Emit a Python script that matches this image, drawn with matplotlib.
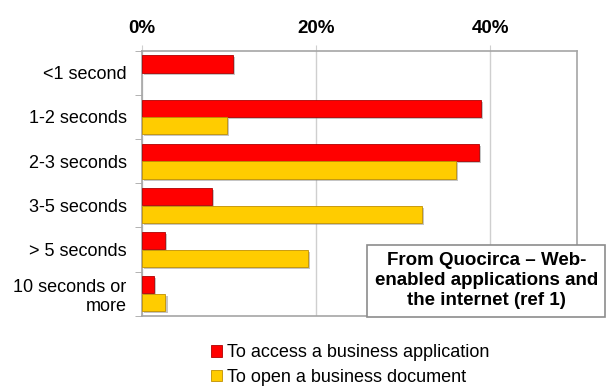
import numpy as np
import matplotlib
matplotlib.use("Agg")
import matplotlib.pyplot as plt
import matplotlib.patheffects as pe
from matplotlib.patches import Patch, Rectangle
from matplotlib.ticker import FixedLocator, PercentFormatter

plt.rcParams["font.family"] = ["Liberation Sans", "DejaVu Sans"]

categories = ["<1 second", "1-2 seconds", "2-3 seconds", "3-5 seconds",
              "> 5 seconds", "10 seconds or\nmore"]
access_app = [10.5, 39.0, 38.7, 8.0, 2.6, 1.4]
open_doc = [0.0, 9.8, 36.1, 32.2, 19.1, 2.7]
series_labels = ["To access a business application", "To open a business document"]
note = "From Quocirca \u2013 Web-\nenabled applications and\nthe internet (ref 1)"

RED, RED_EDGE = "#ff0000", "#b00000"
YEL, YEL_EDGE = "#ffcc00", "#c09000"
FRAME = "#a6a6a6"
GRID = "#cfcfcf"

fig = plt.figure(figsize=(6.07, 3.88), dpi=100)
ax = fig.add_axes([0.2339, 0.1863, 0.9506 - 0.2339, 0.8693 - 0.1863])

y = np.arange(len(categories))
h = 0.39
shadow = [pe.SimplePatchShadow(offset=(1.5, -1.5), shadow_rgbFace="0.5", alpha=0.45),
          pe.Normal()]

b1 = ax.barh(y - 0.2, access_app, height=h, color=RED, edgecolor=RED_EDGE,
             lw=0.6, zorder=3)
b2 = ax.barh(y + 0.2, open_doc, height=h, color=YEL, edgecolor=YEL_EDGE,
             lw=0.6, zorder=3)
for bars in (b1, b2):
    for p in bars:
        if p.get_width() > 0:
            p.set_path_effects(shadow)
        else:
            p.set_visible(False)

ax.set_xlim(0, 50)
ax.set_ylim(len(categories) - 0.5, -0.5)

ax.xaxis.tick_top()
ax.xaxis.set_major_locator(FixedLocator([0, 20, 40]))
ax.xaxis.set_major_formatter(PercentFormatter(decimals=0))
ax.tick_params(axis="x", length=4, color=GRID, pad=6, labelsize=13.5)
for t in ax.get_xticklabels():
    t.set_fontweight("bold")
ax.grid(axis="x", color=GRID, lw=1.0, zorder=0)

ax.set_yticks(y)
ax.set_yticklabels(categories, fontsize=13)
ax.yaxis.set_minor_locator(FixedLocator(np.arange(-0.5, len(categories), 1.0)))
ax.tick_params(axis="y", which="major", length=0, pad=11)
ax.tick_params(axis="y", which="minor", length=5, color=FRAME)

for s in ax.spines.values():
    s.set_color(FRAME)
    s.set_linewidth(1.2)

# source note box, reaching past the right edge of the plot
ax.add_patch(Rectangle((0.517, -0.004), 0.547, 0.271, transform=ax.transAxes,
                       fc="white", ec="#8c8c8c", lw=1.2, zorder=5, clip_on=False))
ax.text(0.792, 0.133, note, transform=ax.transAxes, ha="center", va="center",
        fontsize=13.5, fontweight="bold", linespacing=1.2, zorder=6)

handles = [Patch(fc=RED, ec=RED_EDGE, lw=0.6), Patch(fc=YEL, ec=YEL_EDGE, lw=0.6)]
fig.legend(handles=handles, labels=series_labels, loc="center",
           bbox_to_anchor=(0.577, 0.059), frameon=False, fontsize=13,
           handlelength=0.6, handleheight=0.6, handletextpad=0.3,
           labelspacing=0.4, alignment="left")

fig.savefig("out.png", dpi=100)
